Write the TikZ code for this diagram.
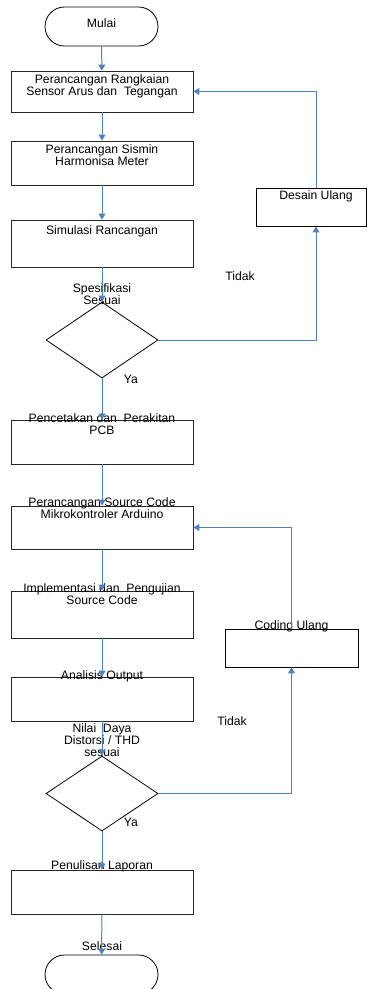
\documentclass[tikz,border=0pt]{standalone}
\usepackage{fontspec}
\setmainfont{Liberation Sans}
\usepackage{xcolor}
\definecolor{flowline}{HTML}{4F81BD}
\usepackage{tikz}
\usetikzlibrary{arrows.meta,shapes.geometric,shapes.misc}

\begin{document}
\begin{tikzpicture}[x=1bp,y=-1bp,>={Triangle[width=7bp,length=6bp]},
  every node/.style={font=\fontsize{12.2bp}{12bp}\selectfont,inner sep=0pt},
  proc/.style={draw=black!85,line width=0.8bp,rectangle,minimum width=182bp},
  term/.style={draw=black,line width=0.8bp,rounded rectangle,minimum width=113bp,minimum height=39bp},
  cond/.style={draw=black,line width=0.8bp,diamond,minimum width=112bp,minimum height=76bp},
  lbl/.style={align=center},
  flow/.style={->,flowline,line width=1bp}]
\useasboundingbox (0,0) rectangle (367,989);
\node[term] (mulai) at (101.5,26.5) {};
\node[lbl] (tmulai) at (101.5,23) {Mulai};
\node[proc,minimum height=41bp] (rangkaian) at (102,91.5) {};
\node[lbl] (trangkaian) at (102,86) {Perancangan Rangkaian\\Sensor Arus dan\ \ Tegangan};
\node[proc,minimum height=44bp] (sismin) at (102,163) {};
\node[lbl] (tsismin) at (102,155) {Perancangan Sismin\\Harmonisa Meter};
\node[proc,minimum height=47bp] (simulasi) at (102,243.5) {};
\node[lbl] (tsimulasi) at (102,231) {Simulasi Rancangan};
\node[draw=black,line width=0.8bp,minimum width=110bp,minimum height=38bp] (desain) at (311,207) {};
\node[lbl] (tdesain) at (316,196) {Desain Ulang};
\node[cond] (spek) at (102,340) {};
\node[lbl] (tspek) at (102,294) {Spesifikasi\\Sesuai};
\node[lbl] (tidaka) at (240,276) {Tidak};
\node[lbl] (yaa) at (131,379) {Ya};
\node[proc,minimum height=44bp] (pcb) at (102,442) {};
\node[lbl] (tpcb) at (102,424) {Pencetakan dan\ \ Perakitan\\PCB};
\node[proc,minimum height=43bp] (source) at (102,527.5) {};
\node[lbl] (tsource) at (102,508.5) {Perancangan Source Code\\Mikrokontroler Arduino};
\node[proc,minimum height=47bp] (uji) at (102,614.5) {};
\node[lbl] (tuji) at (102,594) {Implementasi dan\ \ Pengujian\\Source Code};
\node[draw=black,line width=0.8bp,minimum width=133bp,minimum height=38bp] (coding) at (291.5,648) {};
\node[lbl] (tcoding) at (291.5,626) {Coding Ulang};
\node[proc,minimum height=44bp] (analisis) at (102,699) {};
\node[lbl] (tanalisis) at (102,676) {Analisis Output};
\node[cond,minimum height=75bp] (thd) at (102,793.5) {};
\node[lbl] (tthd) at (102,740) {Nilai\ \ Daya\\Distorsi / THD\\sesuai};
\node[lbl] (tidakb) at (232,721) {Tidak};
\node[lbl] (yab) at (131,822) {Ya};
\node[proc,minimum height=44bp] (laporan) at (102,892) {};
\node[lbl] (tlaporan) at (102,866) {Penulisan Laporan};
\node[lbl] (tselesai) at (102,946) {Selesai};
\node[term] (selesai) at (101.5,974.5) {};
% alur utama
\draw[flow] (mulai) -- (rangkaian);
\draw[flow] (rangkaian) -- (sismin);
\draw[flow] (sismin) -- (simulasi);
\draw[flow] (simulasi) -- (spek);
\draw[flow] (spek) -- (pcb);
\draw[flow] (pcb) -- (source);
\draw[flow] (source) -- (uji);
\draw[flow] (uji) -- (analisis);
\draw[flow] (analisis) -- (thd);
\draw[flow] (thd) -- (laporan);
\draw[flow] (laporan) -- (selesai);
% umpan balik
\draw[flow] (spek.east) -| ([xshift=5bp]desain.south);
\draw[flow] ([xshift=5bp]desain.north) |- (rangkaian.east);
\draw[flow] (thd.east) -| (coding.south);
\draw[flow] (coding.north) |- (source.east);
\end{tikzpicture}
\end{document}
